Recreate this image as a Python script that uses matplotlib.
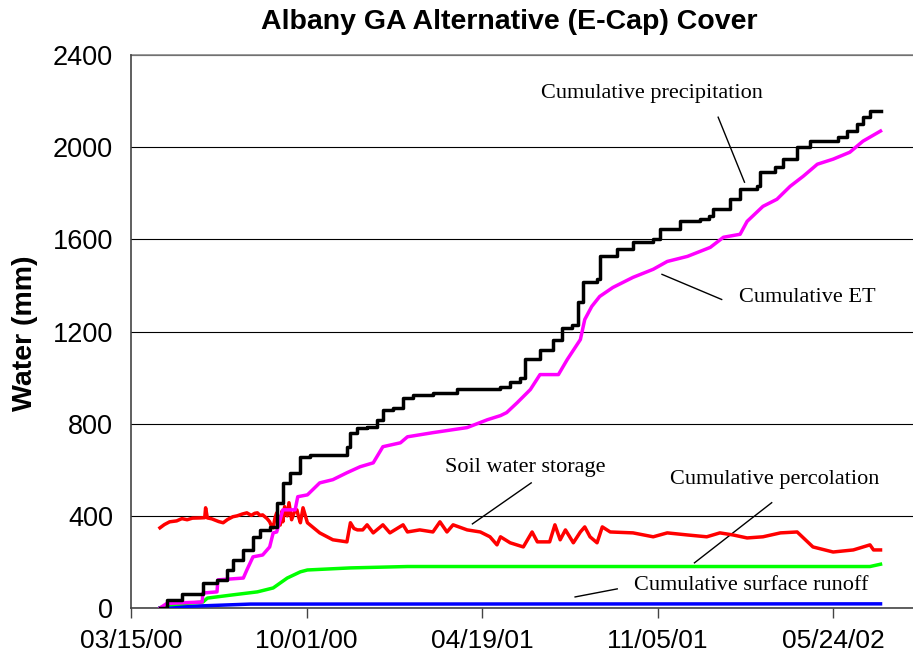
import matplotlib
matplotlib.use("Agg")
import matplotlib.pyplot as plt
import numpy as np
import pandas as pd

START = pd.Timestamp("2000-03-15")

# cumulative precipitation (days since 03/15/00, mm)
precip_days = [33, 41, 58, 79, 82, 98, 109, 116, 128, 139, 147, 158, 166, 173, 181, 193, 204, 238,
               246, 250, 258, 269, 280, 287, 299, 310, 321, 344, 372, 421, 432, 443, 449, 466, 481,
               491, 503, 509, 515, 531, 534, 554, 572, 595, 603, 626, 648, 658, 663, 683, 694, 713,
               717, 734, 743, 759, 774, 805, 816, 827, 834, 842, 854]
precip_vals = [0, 35, 60, 60, 108, 122, 165, 209, 252, 309, 339, 352, 457, 543, 587, 657, 665, 665,
               700, 761, 783, 787, 817, 861, 870, 913, 926, 935, 952, 957, 980, 1000, 1080, 1120, 1165,
               1217, 1230, 1326, 1413, 1426, 1526, 1557, 1587, 1600, 1643, 1678, 1687, 1700, 1730, 1774,
               1817, 1830, 1891, 1913, 1948, 2000, 2026, 2043, 2070, 2100, 2130, 2157, 2157]

# cumulative ET
et_days = [33, 41, 81, 82, 98, 99, 128, 132, 139, 150, 158, 162, 166, 173, 187, 190, 201, 215, 230,
           246, 261, 276, 287, 307, 315, 344, 383, 406, 421, 428, 440, 455, 466, 487, 497, 512, 517,
           525, 534, 549, 572, 595, 611, 634, 660, 675, 694, 702, 720, 736, 751, 766, 782, 800, 819,
           834, 854]
et_vals = [0, 20, 26, 65, 70, 122, 130, 165, 222, 230, 265, 326, 330, 426, 426, 483, 491, 543, 557,
           587, 613, 630, 700, 717, 743, 761, 783, 817, 835, 848, 891, 948, 1013, 1013, 1078, 1165, 1252,
           1309, 1352, 1391, 1435, 1470, 1504, 1526, 1565, 1609, 1622, 1678, 1743, 1774, 1830, 1874, 1926,
           1948, 1978, 2026, 2070]

# soil water storage
soil_days = [33, 38, 44, 52, 58, 64, 70, 79, 84, 85, 87, 92, 100, 105, 110, 116, 121, 127, 132, 137,
             141, 144, 147, 150, 155, 158, 160, 162, 164, 166, 170, 172, 173, 175, 178, 180, 183, 186,
             189, 191, 193, 196, 201, 215, 230, 246, 250, 254, 258, 264, 269, 276, 287, 295, 310, 315,
             329, 344, 352, 360, 367, 383, 398, 409, 417, 421, 432, 447, 457, 463, 477, 483, 489, 495,
             504, 512, 517, 523, 531, 537, 546, 572, 595, 611, 634, 656, 671, 686, 702, 720, 740, 759,
             777, 800, 823, 842, 846, 854]
soil_vals = [348, 362, 374, 378, 388, 383, 390, 391, 392, 435, 391, 387, 375, 370, 384, 396, 400, 408,
             413, 402, 411, 413, 402, 404, 388, 374, 355, 348, 390, 413, 360, 420, 374, 440, 400, 457,
             383, 415, 426, 395, 370, 435, 370, 326, 296, 287, 370, 345, 339, 339, 361, 326, 361, 326,
             361, 330, 339, 330, 374, 330, 361, 339, 330, 309, 274, 309, 283, 265, 330, 287, 287, 361,
             296, 339, 283, 330, 352, 309, 283, 352, 330, 326, 309, 326, 317, 309, 326, 317, 304, 309,
             326, 330, 265, 243, 252, 274, 252, 252]

# cumulative percolation
perc_days = [33, 41, 82, 87, 116, 144, 162, 178, 193, 201, 250, 315, 842, 854]
perc_vals = [0, 13, 26, 43, 57, 70, 87, 130, 157, 165, 174, 180, 180, 190]

# cumulative surface runoff
runoff_days = [33, 41, 79, 136, 854]
runoff_vals = [0, 4, 9, 17, 18]

tick_labels = ["03/15/00", "10/01/00", "04/19/01", "11/05/01", "05/24/02"]
y_ticks = [0, 400, 800, 1200, 1600, 2000, 2400]


def to_dates(days):
    return [START + pd.Timedelta(days=d) for d in days]


fig = plt.figure(figsize=(9.13, 6.62), dpi=100)
ax = fig.add_axes([131 / 913, 1 - 608 / 662, (913 - 131) / 913, (608 - 55) / 662])

lw = 2.5
ax.plot(to_dates(runoff_days), runoff_vals, color="#0000ff", lw=lw, zorder=3)
ax.plot(to_dates(perc_days), perc_vals, color="#00ff00", lw=lw, zorder=3)
ax.plot(to_dates(soil_days), soil_vals, color="#ff0000", lw=lw, zorder=4)
ax.plot(to_dates(et_days), et_vals, color="#ff00ff", lw=lw, zorder=4)
ax.plot(to_dates(precip_days), precip_vals, color="black", lw=lw, drawstyle="steps-post", zorder=5)

ax.set_ylim(0, 2400)
ax.set_xlim(START, START + pd.Timedelta(days=891))
ax.set_yticks(y_ticks)
ax.set_yticklabels([str(v) for v in y_ticks], fontfamily="Liberation Sans", fontsize=19.5)
xt = [START + pd.Timedelta(days=200 * i) for i in range(5)]
ax.set_xticks(xt)
ax.set_xticklabels(tick_labels, fontfamily="Liberation Sans", fontsize=19)

ax.grid(axis="y", color="black", lw=0.8)
ax.set_axisbelow(True)
for s in ["top", "right"]:
    ax.spines[s].set_visible(False)
ax.spines["left"].set_color("#444444")
ax.spines["bottom"].set_color("#444444")
ax.spines["left"].set_linewidth(1.2)
ax.spines["bottom"].set_linewidth(1.2)
ax.tick_params(axis="y", length=0, pad=13)
ax.tick_params(axis="x", length=7, width=1, color="#444444", pad=8, direction="out")
ax.axhline(2400, color="#888888", lw=1.2, clip_on=False)

fig.text(25 / 913, 1 - 333 / 662, "Water (mm)", rotation=90, ha="center", va="center",
         fontfamily="Liberation Sans", fontsize=20.5, fontweight="bold")
fig.text(509 / 913, 1 - 22 / 662, "Albany GA Alternative (E-Cap) Cover", ha="center", va="center",
         fontfamily="Liberation Sans", fontsize=20.5, fontweight="bold")

tf = dict(fontfamily="Liberation Serif", fontsize=16, va="center")


def D(d):
    return START + pd.Timedelta(days=d)


ax.text(D(593), 2235, "Cumulative precipitation", ha="center", **tf)
ax.plot([D(669), D(699)], [2130, 1848], color="black", lw=1)
ax.text(D(693), 1348, "Cumulative ET", ha="left", **tf)
ax.plot([D(605), D(673)], [1448, 1339], color="black", lw=1)
ax.text(D(358), 609, "Soil water storage", ha="left", **tf)
ax.plot([D(456), D(389)], [543, 365], color="black", lw=1)
ax.text(D(614), 557, "Cumulative percolation", ha="left", **tf)
ax.plot([D(730), D(642)], [457, 196], color="black", lw=1)
ax.text(D(573), 96, "Cumulative surface runoff", ha="left", **tf)
ax.plot([D(554), D(506)], [83, 48], color="black", lw=1)

fig.savefig("out.png", dpi=100)
